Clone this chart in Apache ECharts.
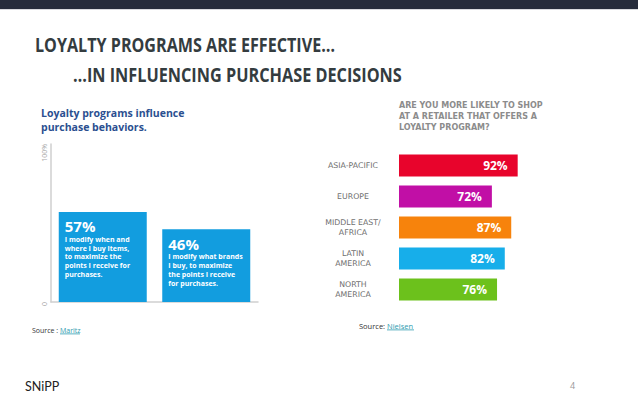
<!DOCTYPE html>
<html>
<head>
<meta charset="utf-8">
<script src="https://cdn.jsdelivr.net/npm/echarts@6/dist/echarts.min.js"></script>
<style>
html,body{margin:0;padding:0;background:#fff;}
#chart{width:638px;height:399px;}
</style>
</head>
<body>
<div id="chart"></div>
<script>
// ---- Data ----
const leftCategories = ['When and where', 'What brands'];
const leftValues = [57, 46];
const leftDescriptions = [
  'I modify when and\nwhere I buy items,\nto maximize the\npoints I receive for\npurchases.',
  'I modify what brands\nI buy, to maximize\nthe points I receive\nfor purchases.'
];
const leftTickLabels = {0: '0', 100: '100%'};

const regions = ['ASIA-PACIFIC', 'EUROPE', 'MIDDLE EAST/\nAFRICA', 'LATIN\nAMERICA', 'NORTH\nAMERICA'];
const regionValues = [92, 72, 87, 82, 76];
const regionColors = ['#e8042c', '#c10fa6', '#f7830c', '#17aeea', '#6cc11c'];

const mainTitle1 = 'LOYALTY PROGRAMS ARE EFFECTIVE…';
const mainTitle2 = '…IN INFLUENCING PURCHASE DECISIONS';
const leftTitle = 'Loyalty programs influence\npurchase behaviors.';
const rightTitle = 'ARE YOU MORE LIKELY TO SHOP\nAT A RETAILER THAT OFFERS A\nLOYALTY PROGRAM?';

const chart = echarts.init(document.getElementById('chart'), null, {renderer: 'svg'});

const option = {
  backgroundColor: '#ffffff',
  animation: false,
  graphic: [
    {type: 'rect', left: 0, top: 0, shape: {width: 638, height: 9}, style: {fill: '#262c3b'}},
    {type: 'rect', left: 0, top: 9, shape: {width: 638, height: 1}, style: {fill: '#d8dadd'}},
    {type: 'text', x: 35, y: 44.5, scaleX: 0.806,
     style: {text: mainTitle1, fontFamily: 'Open Sans', fontWeight: 'bold', fontSize: 20,
       fill: '#343c3f', verticalAlign: 'middle', align: 'left'}},
    {type: 'text', x: 73, y: 74, scaleX: 0.813,
     style: {text: mainTitle2, fontFamily: 'Open Sans', fontWeight: 'bold', fontSize: 20,
       fill: '#343c3f', verticalAlign: 'middle', align: 'left'}},
    {type: 'rect', left: 60, top: 333.5, shape: {width: 20, height: 0.8}, style: {fill: '#2f9cb0'}},
    {type: 'rect', left: 387, top: 329.5, shape: {width: 27, height: 0.8}, style: {fill: '#2f9cb0'}}
  ],
  title: [
    {text: leftTitle, left: 41, top: 106, padding: 0,
     textStyle: {fontFamily: 'Open Sans', fontWeight: 'bold', fontSize: 10.5, lineHeight: 14, color: '#2b4f90'}},
    {text: rightTitle, left: 399, top: 100, padding: 0,
     textStyle: {fontFamily: 'DejaVu Sans', fontWeight: 'bold', fontSize: 8, lineHeight: 11, color: '#8c8c8c'}},
    {text: 'Source : {l|Maritz}', left: 32, top: 325, padding: 0,
     textStyle: {fontFamily: 'Open Sans', fontWeight: 'normal', fontSize: 7, lineHeight: 10, color: '#333',
       rich: {l: {fontFamily: 'Open Sans', fontWeight: 'normal', fontSize: 7, color: '#2f9cb0'}}}},
    {text: 'Source: {l|Nielsen}', left: 359, top: 321, padding: 0,
     textStyle: {fontFamily: 'Open Sans', fontWeight: 'normal', fontSize: 7.5, lineHeight: 10, color: '#333',
       rich: {l: {fontFamily: 'Open Sans', fontWeight: 'normal', fontSize: 7.5, color: '#2f9cb0'}}}},
    {text: 'SNiPP', left: 25, top: 380, padding: 0,
     textStyle: {fontFamily: 'Lato', fontWeight: 'normal', fontSize: 12.5, lineHeight: 12, color: '#222'}},
    {text: '4', left: 570, top: 380, padding: 0,
     textStyle: {fontFamily: 'Open Sans', fontWeight: 'normal', fontSize: 9, lineHeight: 10, color: '#999'}}
  ],
  grid: [
    {left: 51, top: 144, width: 207, height: 158},
    {left: 399, top: 150, width: 129, height: 155}
  ],
  xAxis: [
    {type: 'category', gridIndex: 0, data: leftCategories,
     axisLine: {show: true, lineStyle: {color: '#cfcfcf', width: 1.5}},
     axisTick: {show: false}, axisLabel: {show: false}},
    {type: 'value', gridIndex: 1, min: 0, max: 100, show: false}
  ],
  yAxis: [
    {type: 'value', gridIndex: 0, min: 0, max: 100, interval: 100,
     axisLine: {show: true, lineStyle: {color: '#cfcfcf', width: 1.5}},
     axisTick: {show: false}, splitLine: {show: false},
     axisLabel: {rotate: 90, align: 'right', verticalAlign: 'bottom', margin: 3,
       fontFamily: 'Open Sans', fontSize: 7, color: '#aaa',
       formatter: v => leftTickLabels[v]}},
    {type: 'category', gridIndex: 1, data: regions, inverse: true,
     axisLine: {show: false}, axisTick: {show: false},
     axisLabel: {align: 'center', margin: 46, fontFamily: 'DejaVu Sans', fontSize: 7.8,
       lineHeight: 10, color: '#6f6f6f'}}
  ],
  series: [
    {type: 'bar', xAxisIndex: 0, yAxisIndex: 0, barWidth: 88,
     data: leftValues,
     itemStyle: {color: '#129ddf'},
     label: {show: true, position: 'insideTopLeft', distance: 6,
       formatter: p => '{big|' + p.value + '%}\n{small|' + leftDescriptions[p.dataIndex].split('\n').join('}\n{small|') + '}',
       rich: {
         big: {fontFamily: 'Open Sans', fontWeight: 'bold', fontSize: 15, lineHeight: 17, color: '#fff'},
         small: {fontFamily: 'Open Sans', fontWeight: 'bold', fontSize: 7, lineHeight: 8.8, color: '#fff'}
       }}},
    {type: 'bar', xAxisIndex: 1, yAxisIndex: 1, barWidth: 22,
     data: regionValues.map((v, i) => ({value: v, itemStyle: {color: regionColors[i]}})),
     label: {show: true, position: 'insideRight', distance: 10,
       formatter: p => p.value + '%',
       fontFamily: 'Open Sans', fontWeight: 'bold', fontSize: 12, color: '#fff'}}
  ]
};
chart.setOption(option);
</script>
</body>
</html>
